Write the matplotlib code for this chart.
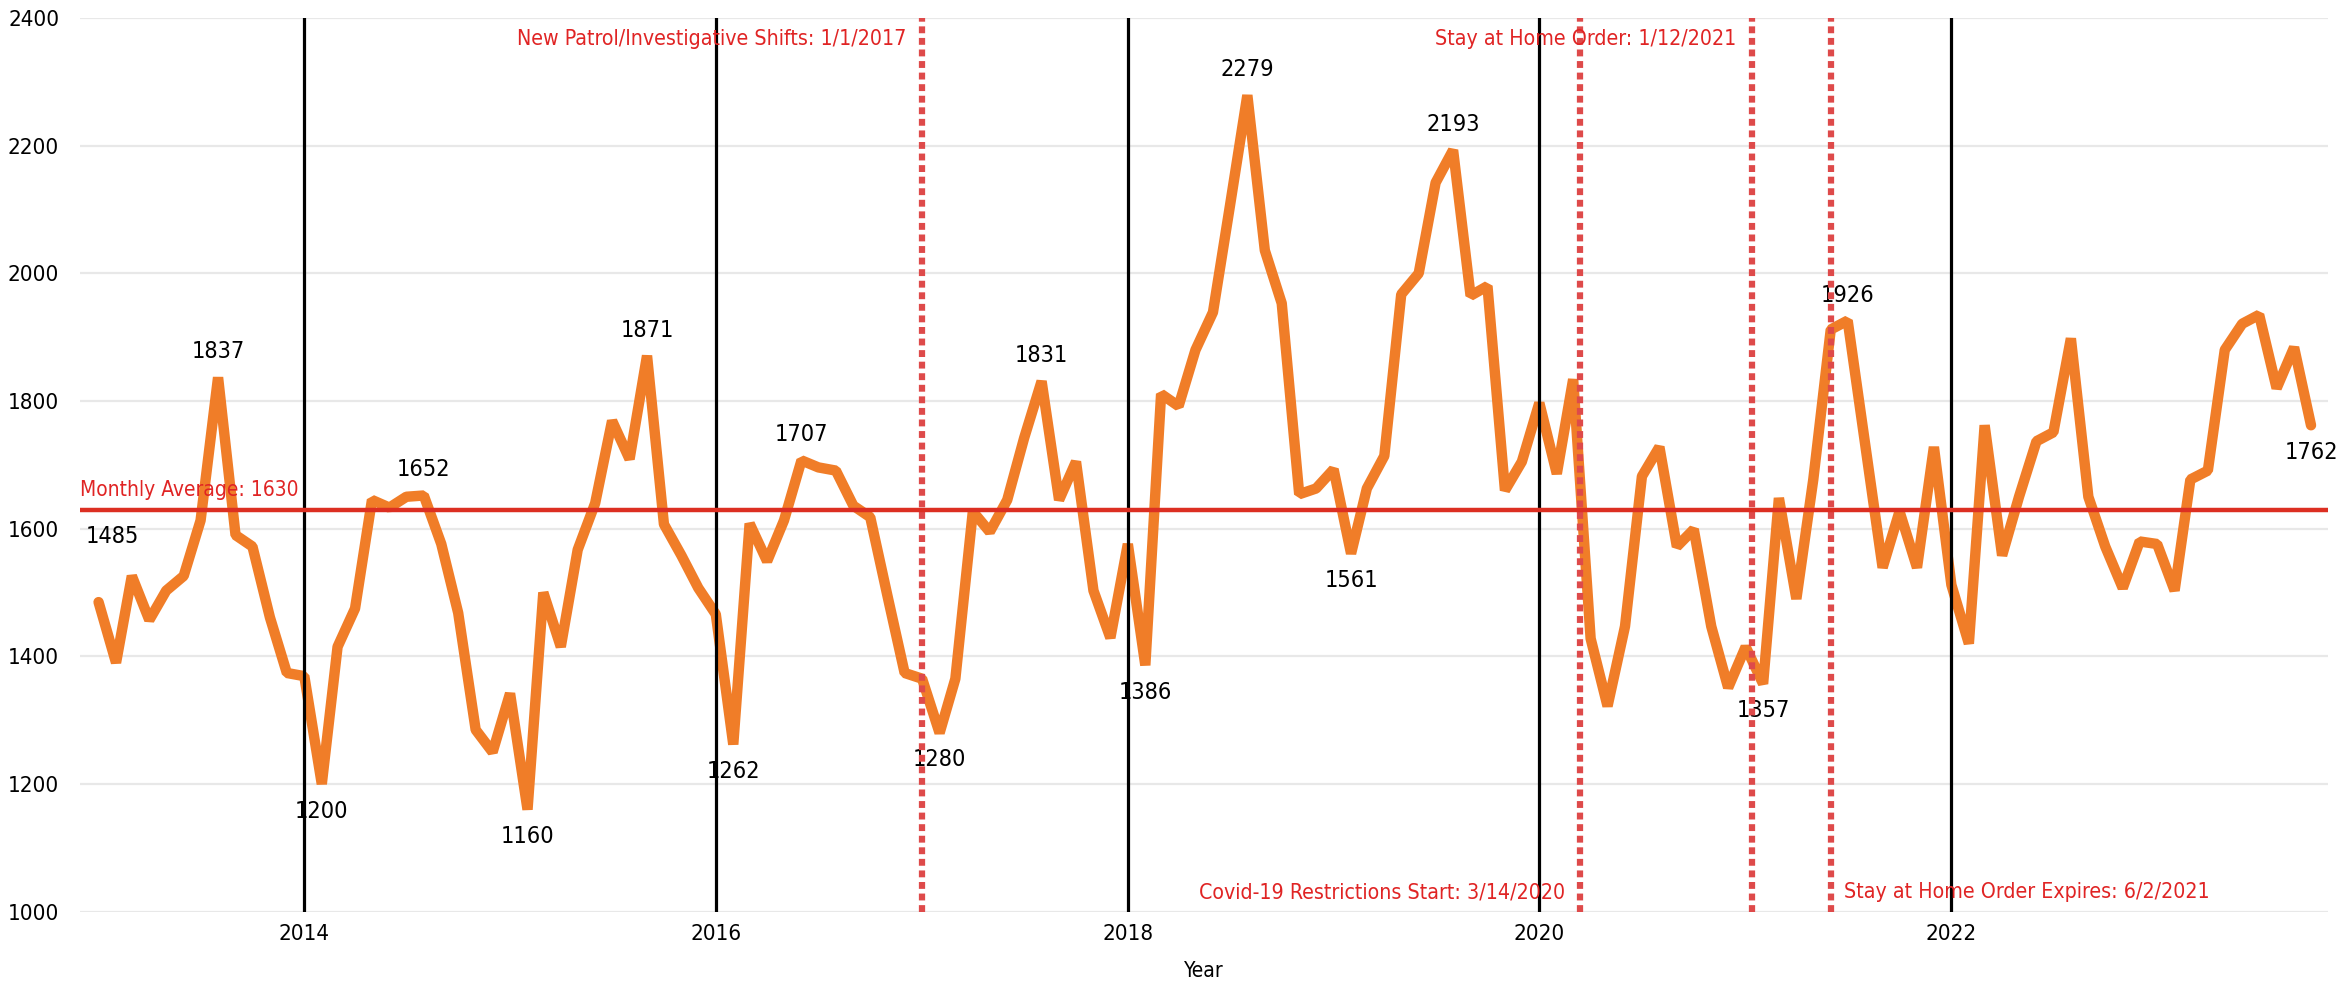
import pandas as pd
import numpy as np
import matplotlib
matplotlib.use('Agg')
import matplotlib.pyplot as plt

plt.rcParams['font.family'] = ['DejaVu Sans']
plt.rcParams['font.stretch'] = 'condensed'

# monthly counts, Jan 2013 - Oct 2023
counts = [1485, 1390, 1526, 1457, 1503, 1526, 1613, 1837, 1590, 1572, 1461, 1374,
          1369, 1200, 1415, 1475, 1645, 1633, 1650, 1652, 1576, 1468, 1285, 1250,
          1342, 1160, 1500, 1415, 1567, 1640, 1769, 1709, 1871, 1607, 1558, 1507,
          1466, 1262, 1608, 1549, 1613, 1707, 1696, 1691, 1636, 1618, 1493, 1374,
          1365, 1280, 1365, 1627, 1595, 1645, 1742, 1831, 1645, 1705, 1503, 1429,
          1576, 1386, 1811, 1792, 1880, 1939, 2105, 2279, 2036, 1953, 1654, 1663,
          1693, 1561, 1663, 1714, 1967, 2000, 2142, 2193, 1965, 1980, 1660, 1705,
          1797, 1686, 1834, 1428, 1322, 1447, 1682, 1728, 1572, 1599, 1447, 1351,
          1415, 1357, 1648, 1490, 1677, 1912, 1926, 1733, 1539, 1627, 1539, 1728,
          1512, 1420, 1762, 1558, 1650, 1737, 1751, 1898, 1650, 1572, 1507, 1580,
          1576, 1503, 1677, 1691, 1880, 1921, 1935, 1820, 1884, 1762]
dates = pd.date_range('2013-01-01', periods=len(counts), freq='MS')

monthly_avg = 1630

# labelled points: index into counts, above/below
label_idx = [0, 7, 13, 19, 25, 32, 37, 41, 49, 55, 61, 67, 73, 79, 97, 102, 129]
label_pos = ['above', 'above', 'below', 'above', 'below', 'above', 'below', 'above',
             'below', 'above', 'below', 'above', 'below', 'above', 'below', 'above', 'below']

year_lines = ['2014-01-01', '2016-01-01', '2018-01-01', '2020-01-01', '2022-01-01']
year_labels = ['2014', '2016', '2018', '2020', '2022']

event_dates = ['2017-01-01', '2020-03-14', '2021-01-12', '2021-06-02']
event_texts = ['New Patrol/Investigative Shifts: 1/1/2017',
               'Covid-19 Restrictions Start: 3/14/2020',
               'Stay at Home Order: 1/12/2021',
               'Stay at Home Order Expires: 6/2/2021']
event_place = ['top-left', 'bottom-left', 'top-left', 'bottom-right']

red = '#E02424'

fig, ax = plt.subplots(figsize=(23.52, 9.81), dpi=100)
fig.subplots_adjust(left=0.034, right=0.99, top=0.9817, bottom=0.0706)

ax.plot(dates, counts, color='#F07D28', lw=7.5, solid_joinstyle='bevel',
        solid_capstyle='round', zorder=3)

for d in year_lines:
    ax.axvline(pd.Timestamp(d), color='black', lw=2.3, zorder=5)

for d in event_dates:
    ax.axvline(pd.Timestamp(d), color='#DE4A4A', lw=4.5, dashes=(1.1, 0.75),
               dash_capstyle='butt', zorder=5)

ax.axhline(monthly_avg, color='#DC2F22', lw=3.2, zorder=6)
ax.annotate('Monthly Average: %d' % monthly_avg, xy=(0, monthly_avg),
            xycoords=('axes fraction', 'data'), xytext=(0, 7), textcoords='offset points',
            ha='left', va='bottom', color=red, fontsize=15, zorder=7)

for d, t, p in zip(event_dates, event_texts, event_place):
    x = pd.Timestamp(d)
    if p.startswith('top'):
        y, dy = 2400, -15
    else:
        y, dy = 1000, 14
    if p.endswith('left'):
        dx, ha = -11, 'right'
    else:
        dx, ha = 9, 'left'
    ax.annotate(t, xy=(x, y), xytext=(dx, dy), textcoords='offset points',
                ha=ha, va='center', color=red, fontsize=15.3, zorder=7)

for i, p in zip(label_idx, label_pos):
    dx, dy = 0, 18.4
    if p == 'below':
        dy = -19.4
    if i == 0:
        dx, dy = 10, 47.5
    ax.annotate(str(counts[i]), xy=(dates[i], counts[i]), xytext=(dx, dy),
                textcoords='offset points', ha='center', va='center',
                fontsize=16.8, color='black', zorder=4)

ax.set_ylim(1000, 2400)
ax.set_yticks(np.arange(1000, 2401, 200))
ax.set_xlim(pd.Timestamp('2012-11-29'), pd.Timestamp('2023-11-01'))
ax.set_xticks([pd.Timestamp(d) for d in year_lines])
ax.set_xticklabels(year_labels)
ax.grid(axis='y', color='#E8E8E8', lw=1.6, zorder=0)
ax.set_axisbelow(True)
for s in ax.spines.values():
    s.set_visible(False)
ax.tick_params(axis='both', length=0, labelsize=16)
ax.tick_params(axis='y', pad=15)
ax.tick_params(axis='x', pad=9)
ax.set_xlabel('Year', fontsize=15, labelpad=12)

fig.savefig('out.png', dpi=100)
